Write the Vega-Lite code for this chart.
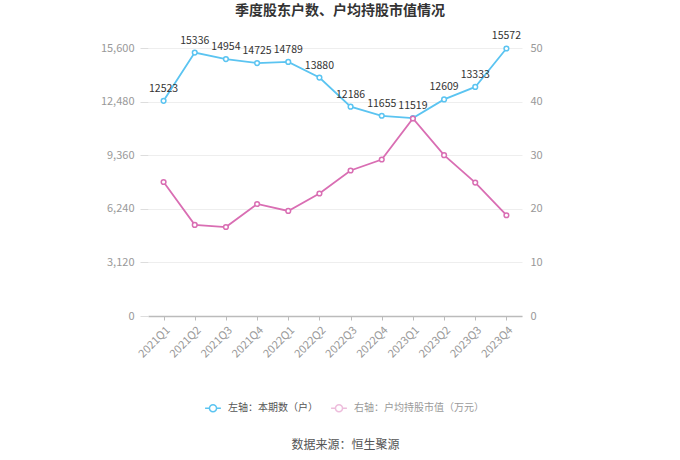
{
  "$schema": "https://vega.github.io/schema/vega-lite/v6.json",
  "width": 374,
  "height": 268,
  "autosize": {"type": "none"},
  "padding": {"left": 148, "top": 48, "right": 158, "bottom": 144},
  "background": "white",
  "config": {
    "font": "Noto Sans CJK SC",
    "view": {"stroke": null}
  },
  "title": {
    "text": "季度股东户数、户均持股市值情况",
    "fontSize": 14,
    "fontWeight": "bold",
    "color": "#333333",
    "anchor": "middle",
    "offset": 13,
    "dx": 5
  },
  "data": {
    "values": [
      {"q": "2021Q1", "households": 12523, "value": 25.0},
      {"q": "2021Q2", "households": 15336, "value": 17.0},
      {"q": "2021Q3", "households": 14954, "value": 16.6},
      {"q": "2021Q4", "households": 14725, "value": 20.9},
      {"q": "2022Q1", "households": 14789, "value": 19.6},
      {"q": "2022Q2", "households": 13880, "value": 22.85},
      {"q": "2022Q3", "households": 12186, "value": 27.15},
      {"q": "2022Q4", "households": 11655, "value": 29.2},
      {"q": "2023Q1", "households": 11519, "value": 36.85},
      {"q": "2023Q2", "households": 12609, "value": 30.0},
      {"q": "2023Q3", "households": 13333, "value": 24.9},
      {"q": "2023Q4", "households": 15572, "value": 18.8}
    ]
  },
  "encoding": {
    "x": {
      "field": "q",
      "type": "ordinal",
      "sort": null,
      "scale": {"type": "point", "padding": 0.5},
      "axis": {
        "title": "数据来源：恒生聚源",
        "titleFontSize": 12,
        "titleFontWeight": "normal",
        "titleColor": "#555555",
        "titlePadding": 80,
        "titleX": 197,
        "labelAngle": -45,
        "labelColor": "#999999",
        "labelFontSize": 11,
        "labelPadding": 4,
        "domainColor": "#bbbbbb",
        "domainWidth": 1.5,
        "tickColor": "#bbbbbb",
        "tickSize": 4,
        "grid": false
      }
    }
  },
  "layer": [
    {
      "layer": [
        {
          "mark": {"type": "line", "strokeWidth": 1.8, "point": {"filled": false, "fill": "white", "size": 22, "strokeWidth": 1.5}},
          "encoding": {
            "y": {
              "field": "households",
              "type": "quantitative",
              "scale": {"domain": [0, 15600], "nice": false},
              "axis": {
                "title": null,
                "values": [0, 3120, 6240, 9360, 12480, 15600],
                "labelExpr": "format(datum.value, ',')",
                "labelColor": "#999999",
                "labelFontSize": 11,
                "labelPadding": 6,
                "domain": false,
                "tickColor": "#dddddd",
                "tickSize": 8,
                "gridColor": "#eeeeee"
              }
            },
            "color": {
              "datum": "左轴：本期数（户）",
              "scale": {"domain": ["左轴：本期数（户）", "右轴：户均持股市值（万元）"], "range": ["#5bc4f1", "#d96eb3"]},
              "legend": {
                "title": null,
                "orient": "none",
                "direction": "horizontal",
                "legendX": 56,
                "legendY": 351,
                "symbolType": "M-1,0L-0.45,0M0.45,0L1,0M0.45,0A0.45,0.45 0 1,1 -0.45,0A0.45,0.45 0 1,1 0.45,0",
                "symbolSize": 250,
                "symbolStrokeWidth": 1.5,
                "labelFontSize": 10,
                "labelColor": "#555555",
                "columnPadding": 10,
                "labelOffset": 6,
                "encode": {
                  "symbols": {"update": {"fill": {"value": "white"}, "opacity": {"signal": "datum.value === '右轴：户均持股市值（万元）' ? 0.45 : 1"}}},
                  "labels": {"update": {"opacity": {"signal": "datum.value === '右轴：户均持股市值（万元）' ? 0.6 : 1"}}}
                }
              }
            }
          }
        },
        {
          "mark": {"type": "text", "dy": -12, "fontSize": 10.5, "color": "#333333"},
          "encoding": {
            "y": {
              "field": "households",
              "type": "quantitative",
              "scale": {"domain": [0, 15600], "nice": false},
              "axis": {
                "title": null,
                "values": [0, 3120, 6240, 9360, 12480, 15600],
                "labelExpr": "format(datum.value, ',')",
                "labelColor": "#999999",
                "labelFontSize": 11,
                "labelPadding": 6,
                "domain": false,
                "tickColor": "#dddddd",
                "tickSize": 8,
                "gridColor": "#eeeeee"
              }
            },
            "text": {"field": "households", "type": "quantitative", "format": "d"}
          }
        }
      ]
    },
    {
      "mark": {"type": "line", "strokeWidth": 1.8, "point": {"filled": false, "fill": "white", "size": 22, "strokeWidth": 1.5}},
      "encoding": {
        "y": {
          "field": "value",
          "type": "quantitative",
          "scale": {"domain": [0, 50], "nice": false},
          "axis": {
            "title": null,
            "orient": "right",
            "values": [0, 10, 20, 30, 40, 50],
            "labelColor": "#999999",
            "labelFontSize": 11,
            "labelPadding": 8,
            "domain": false,
            "ticks": false,
            "grid": false
          }
        },
        "color": {"datum": "右轴：户均持股市值（万元）"}
      }
    }
  ],
  "resolve": {"scale": {"y": "independent"}}
}
